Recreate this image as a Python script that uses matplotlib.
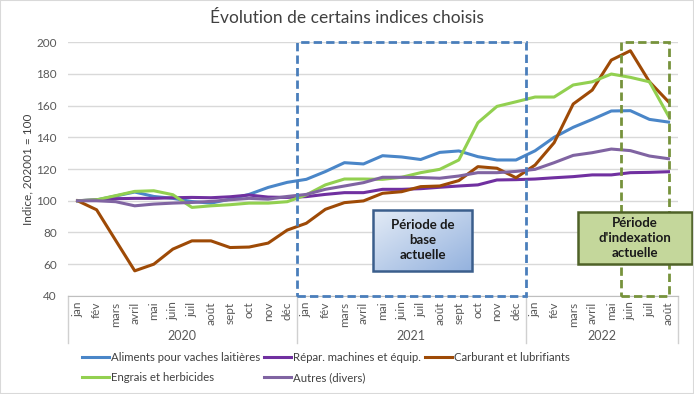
import matplotlib.pyplot as plt
import numpy as np
from matplotlib.patches import Rectangle
from matplotlib.colors import LinearSegmentedColormap
from matplotlib.transforms import blended_transform_factory

plt.rcParams['font.family'] = ['Lato', 'DejaVu Sans']

months = ["jan", "fév", "mars", "avril", "mai", "juin", "juil", "août", "sept", "oct", "nov", "déc"]
years = ["2020", "2021", "2022"]
month_labels = months + months + months[:8]

aliments = [100, 100.5, 103, 105.5, 102.7, 101.5, 99.5, 98.5, 101, 104, 108.4, 111.6,
            113.5, 118.4, 124, 123.2, 128.4, 127.6, 126, 130.5, 131.4, 127.8, 125.7, 125.7,
            131.5, 140, 146.3, 151.3, 156.6, 156.8, 151.3, 149.6]
repar = [100, 100.6, 101.3, 101.5, 101.5, 101.9, 102.1, 101.9, 102.5, 103.6, 102.3, 102.1,
         102.6, 104, 105.1, 105.1, 107.2, 107.2, 107.6, 108.5, 109.3, 110, 113.1, 113.3,
         113.7, 114.5, 115.2, 116.3, 116.3, 117.7, 117.9, 118.3]
carburant = [100, 94.3, 75, 55.8, 60, 69.5, 74.7, 74.7, 70.5, 70.8, 73.3, 81.5,
             85.8, 94.6, 98.8, 99.9, 104.7, 105.7, 108.9, 109.3, 112.7, 121.5, 120.5, 114.5,
             122.5, 136.6, 161, 169.8, 188.7, 194.6, 175, 162.4]
engrais = [100, 100.6, 103.2, 105.9, 106.3, 103.8, 95.8, 96.8, 97.5, 98.5, 98.5, 99.4,
           103.7, 110, 113.7, 113.7, 113.5, 114.8, 117.7, 119.8, 125.7, 149.2, 159.5, 162.4,
           165.4, 165.4, 173, 175, 179.9, 177.8, 175, 153.4]
autres = [100, 100, 99.4, 96.8, 97.9, 98.5, 98.9, 99.6, 100.6, 101.5, 101, 102.7,
          104, 107.2, 109.3, 111.4, 114.8, 114.8, 114.6, 114.2, 115.6, 117.7, 117.7, 118.5,
          119.8, 124, 128.6, 130.3, 132.6, 131.6, 128.2, 126.5]

series = [
    ("Aliments pour vaches laitières", aliments, "#4a86c8"),
    ("Répar. machines et équip.", repar, "#7030a0"),
    ("Carburant et lubrifiants", carburant, "#9e4a06"),
    ("Engrais et herbicides", engrais, "#92d050"),
    ("Autres (divers)", autres, "#8064a2"),
]

fig = plt.figure(figsize=(6.94, 3.94), dpi=100)
ax = fig.add_axes([0.098, 0.249, 0.879, 0.644])

x = np.arange(len(month_labels))
handles = {}
for name, vals, col in series:
    h, = ax.plot(x, vals, color=col, lw=2.2, solid_joinstyle='round', label=name)
    handles[name] = h

ax.set_yticks(range(40, 201, 20))
ax.yaxis.grid(True, color="#d9d9d9", lw=1)
ax.set_axisbelow(True)
for s in ["top", "right", "left"]:
    ax.spines[s].set_visible(False)
ax.spines["bottom"].set_color("#bfbfbf")
ax.tick_params(axis="y", length=0, labelsize=8.5, colors="#595959", pad=8)
ax.set_xticks(x)
ax.set_xticklabels(month_labels, rotation=90, fontsize=8.5, color="#595959")
ax.tick_params(axis="x", length=0, pad=4)
ax.set_ylabel("Indice, 202001 = 100", fontsize=8.5, color="#404040", labelpad=2)

# axe des catégories : séparateurs et années
trans = blended_transform_factory(ax.transData, ax.transAxes)
for b in [-0.5, 11.5, 23.5, 31.5]:
    ax.plot([b, b], [0, -0.185], transform=trans, color="#d0d0d0", lw=1, clip_on=False)
for i, yr in enumerate(years):
    start = i * 12 - 0.5
    end = min(start + 12, len(month_labels) - 0.5)
    ax.text((start + end) / 2, -0.16, yr, transform=trans, ha="center", va="center",
            fontsize=9, color="#595959")

# cadres en pointillés
ax.add_patch(Rectangle((11.5, 40), 12, 160, fill=False, ls=(0, (3, 1.5)), lw=2,
                       ec="#4a7ebb", clip_on=False, zorder=5))
ax.add_patch(Rectangle((28.5, 40), 2.5, 160, fill=False, ls=(0, (3, 1.5)), lw=2,
                       ec="#77933c", clip_on=False, zorder=5))

# encadrés de texte
grad = np.linspace(0, 1, 64).reshape(1, -1) + np.linspace(0, 1, 64).reshape(-1, 1)
cmap = LinearSegmentedColormap.from_list("bl", ["#e3ebf6", "#94b2de"])
ax.imshow(grad, extent=(15.5, 20.7, 55.8, 94.2), cmap=cmap, aspect="auto",
          origin="upper", zorder=6, clip_on=False)
ax.add_patch(Rectangle((15.5, 55.8), 5.2, 38.4, fill=False, lw=1.8, ec="#3b5e8c",
                       clip_on=False, zorder=7))
ax.text(18.1, 75, "Période de\nbase\nactuelle", ha="center", va="center", fontsize=9.5,
        fontweight="bold", color="#1a1a1a", zorder=8, linespacing=1.3)

ax.add_patch(Rectangle((26.26, 60.2), 5.95, 32.7, fc="#c4d79b", lw=1.8, ec="#4f6228",
                       clip_on=False, zorder=7))
ax.text(29.24, 76.6, "Période\nd'indexation\nactuelle", ha="center", va="center",
        fontsize=9.5, fontweight="bold", color="#1a1a1a", zorder=8, linespacing=1.3)

ax.set_xlim(-0.5, len(month_labels) - 0.5)
ax.set_ylim(40, 200)

fig.suptitle("Évolution de certains indices choisis", x=0.5, y=0.975, fontsize=12.5,
             color="#404040")

order = ["Aliments pour vaches laitières", "Engrais et herbicides",
         "Répar. machines et équip.", "Autres (divers)", "Carburant et lubrifiants"]
fig.legend([handles[n] for n in order], order, ncol=3, loc="upper left",
           bbox_to_anchor=(0.11, 0.12), frameon=False, fontsize=8.2,
           handlelength=2.35, handletextpad=0.15, columnspacing=0.4,
           labelspacing=0.75, borderpad=0, labelcolor="#404040")

fig.patches.append(Rectangle((0, 0), 1, 1, transform=fig.transFigure, fill=False,
                             ec="#d9d9d9", lw=1.5))

fig.savefig("out.png", dpi=100)
